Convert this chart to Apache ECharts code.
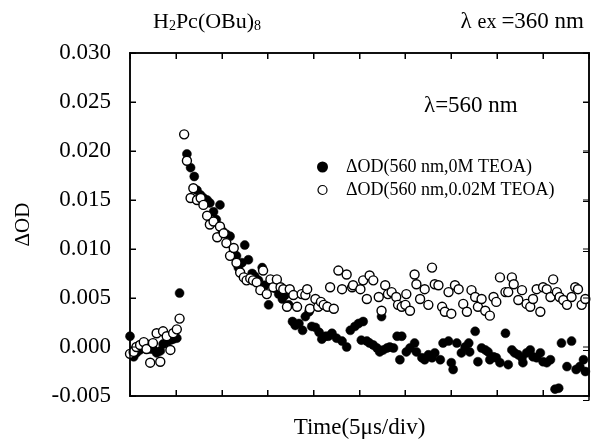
<!DOCTYPE html>
<html>
<head>
<meta charset="utf-8">
<script src="https://cdn.jsdelivr.net/npm/echarts@6/dist/echarts.min.js"></script>
<style>
html,body{margin:0;padding:0;background:#fff;}
#chart{width:592px;height:444px;background:#fff;}
</style>
</head>
<body>
<div id="chart"></div>
<script>
// Time in microseconds (5 µs per division), ΔOD values
const seriesNames = ['ΔOD(560 nm,0M TEOA)', 'ΔOD(560 nm,0.02M TEOA)'];
const xTicks = [0, 5, 10, 15, 20, 25, 30, 35, 40, 45, 50];
const yTicks = [-0.005, 0.000, 0.005, 0.010, 0.015, 0.020, 0.025, 0.030];

const timeA = [0.0,0.4,0.7,1.1,1.5,1.8,2.2,2.5,2.9,3.3,3.6,4.0,4.4,4.7,5.1,5.4,
  6.2,6.6,7.0,7.3,7.7,8.0,8.4,8.7,9.1,9.4,9.8,10.1,10.5,10.9,11.2,11.6,11.8,12.2,12.5,12.9,
  13.3,13.6,14.0,14.4,14.7,15.1,15.5,15.8,16.2,16.6,16.9,17.3,17.7,18.0,18.4,18.8,19.1,19.5,
  19.8,20.2,20.6,20.9,21.3,21.6,22.0,22.5,23.1,23.6,24.0,24.5,24.9,25.2,25.4,25.8,26.1,26.5,
  26.9,27.2,27.4,27.6,28.0,28.3,28.7,29.1,29.4,29.6,30.1,30.5,31.0,31.2,31.8,32.1,32.5,32.9,
  33.2,33.8,34.1,34.7,35.0,35.2,35.6,36.1,36.5,36.9,37.0,37.6,37.9,38.3,38.7,39.0,39.2,39.6,
  39.9,40.3,40.9,41.2,41.6,41.9,42.3,42.7,42.8,43.2,43.6,43.9,44.3,44.7,45.0,45.4,45.8,46.3,
  46.7,47.0,47.6,48.1,48.6,49.0,49.4,49.6];
const odA = [0.0011,-0.0010,-0.0006,-0.0003,0.0000,0.0003,-0.0002,-0.0002,-0.0006,-0.0004,0.0003,0.0005,0.0007,0.0008,0.0009,0.0055,
  0.0197,0.0183,0.0174,0.0160,0.0155,0.0152,0.0150,0.0147,0.0138,0.0130,0.0145,0.0118,0.0115,0.0113,0.0096,0.0093,0.0081,0.0086,0.0104,0.0089,
  0.0075,0.0072,0.0068,0.0081,0.0063,0.0043,0.0066,0.0060,0.0054,0.0049,0.0053,0.0043,0.0026,0.0022,0.0024,0.0017,0.0031,0.0036,
  0.0021,0.0020,0.0015,0.0008,0.0011,0.0011,0.0014,0.0009,0.0006,0.0000,0.0017,0.0021,0.0024,0.0007,0.0026,0.0006,0.0004,0.0002,
  -0.0001,-0.0005,0.0031,-0.0003,-0.0001,0.0000,-0.0001,0.0011,-0.0013,0.0011,-0.0005,-0.0001,0.0004,-0.0005,-0.0011,-0.0013,-0.0008,-0.0011,
  -0.0006,-0.0013,0.0004,0.0006,-0.0016,-0.0023,0.0004,-0.0006,0.0000,0.0004,-0.0005,0.0016,-0.0015,-0.0001,-0.0003,-0.0005,-0.0013,-0.0010,
  -0.0011,-0.0016,0.0014,-0.0018,-0.0003,-0.0006,-0.0008,-0.0011,-0.0016,-0.0006,-0.0003,-0.0010,-0.0011,-0.0006,-0.0015,-0.0016,-0.0013,-0.0043,
  -0.0042,0.0004,-0.0020,0.0006,-0.0023,-0.0020,-0.0013,-0.0025];

const timeB = [0.0,0.4,0.7,1.1,1.5,1.8,2.2,2.5,2.9,3.3,3.6,4.0,4.4,4.7,5.1,5.4,
  5.9,6.2,6.6,6.9,7.3,7.7,8.0,8.4,8.7,9.1,9.5,9.8,10.2,10.5,10.9,11.3,11.6,12.0,12.4,12.7,
  13.1,13.4,13.8,14.2,14.5,14.9,15.3,15.6,16.0,16.4,16.7,17.1,17.4,17.8,18.2,18.7,19.1,19.3,
  19.6,20.2,20.5,20.8,21.1,21.5,21.8,22.2,22.7,23.1,23.6,24.2,24.3,25.1,25.4,25.8,26.1,26.5,
  27.1,27.4,27.8,28.1,28.5,29.0,29.2,29.6,30.0,30.1,30.5,31.0,31.2,31.6,32.1,32.5,32.9,33.2,
  33.6,34.0,34.3,34.7,35.0,35.4,35.8,36.3,36.7,37.2,37.6,37.9,38.3,38.7,39.2,39.6,39.9,40.3,
  40.9,41.2,41.6,41.8,42.3,42.7,43.2,43.6,43.9,44.3,44.7,45.0,45.4,45.8,46.1,46.5,46.8,47.2,
  47.6,48.1,48.5,48.8,49.2,49.6];
const odB = [-0.0007,-0.0005,0.0000,0.0002,0.0005,-0.0002,-0.0016,0.0004,0.0014,-0.0015,0.0016,0.0011,-0.0003,0.0014,0.0018,0.0029,
  0.0217,0.0190,0.0152,0.0162,0.0150,0.0152,0.0145,0.0134,0.0125,0.0128,0.0112,0.0123,0.0116,0.0106,0.0093,0.0101,0.0086,0.0076,0.0071,0.0068,
  0.0070,0.0068,0.0066,0.0058,0.0078,0.0054,0.0069,0.0061,0.0069,0.0061,0.0059,0.0041,0.0059,0.0053,0.0041,0.0054,0.0053,0.0059,
  0.0039,0.0049,0.0041,0.0046,0.0043,0.0041,0.0061,0.0039,0.0078,0.0059,0.0074,0.0061,0.0063,0.0059,0.0068,0.0049,0.0073,0.0068,
  0.0051,0.0037,0.0063,0.0054,0.0056,0.0051,0.0043,0.0041,0.0043,0.0054,0.0037,0.0074,0.0064,0.0049,0.0059,0.0043,0.0081,0.0064,
  0.0063,0.0041,0.0036,0.0056,0.0034,0.0063,0.0059,0.0044,0.0036,0.0058,0.0051,0.0041,0.0049,0.0037,0.0032,0.0051,0.0046,0.0071,
  0.0056,0.0056,0.0071,0.0064,0.0048,0.0058,0.0044,0.0041,0.0049,0.0059,0.0036,0.0061,0.0059,0.0051,0.0069,0.0056,0.0051,0.0048,
  0.0043,0.0051,0.0061,0.0059,0.0043,0.0049];

const dataA = timeA.map((t, i) => [t, odA[i]]);
const dataB = timeB.map((t, i) => [t, odB[i]]);

const FONT = '"Liberation Serif", "Times New Roman", serif';
const chart = echarts.init(document.getElementById('chart'), null, {renderer: 'canvas'});

const X_MIN = xTicks[0], X_MAX = xTicks[xTicks.length - 1];
const Y_MIN = yTicks[0], Y_MAX = yTicks[yTicks.length - 1];

function axisLine() { return {show: true, onZero: false, lineStyle: {color: '#000', width: 1.5}}; }
function tickIn() { return {show: true, inside: true, length: 6, lineStyle: {color: '#000', width: 1}}; }
const gridBox = {left: 130, right: 3, top: 53, bottom: 44, containLabel: false};

chart.setOption({
  animation: false,
  grid: [Object.assign({}, gridBox), Object.assign({}, gridBox)],
  title: [
    {
      left: 148, top: 0,
      text: '{a|H}{s|2}{a|Pc(OBu)}{s|8}',
      textStyle: {fontWeight: 'normal', rich: {
        a: {fontFamily: FONT, fontSize: 22, fontWeight: 'normal', color: '#000', lineHeight: 28, verticalAlign: 'bottom'},
        s: {fontFamily: FONT, fontSize: 14, fontWeight: 'normal', color: '#000', lineHeight: 8, verticalAlign: 'bottom'}
      }}
    },
    {
      right: 3, top: 0,
      text: '{a|λ }{s|ex }{a|=360 nm}',
      textStyle: {fontWeight: 'normal', rich: {
        a: {fontFamily: FONT, fontSize: 23, fontWeight: 'normal', color: '#000', lineHeight: 28, verticalAlign: 'bottom'},
        s: {fontFamily: FONT, fontSize: 20, fontWeight: 'normal', color: '#000', lineHeight: 14, verticalAlign: 'bottom'}
      }}
    },
    {
      left: 419, top: 89,
      text: 'λ=560 nm',
      textStyle: {fontFamily: FONT, fontSize: 23, fontWeight: 'normal', color: '#000'}
    }
  ],
  legend: {
    left: 312, top: 153,
    orient: 'vertical',
    itemGap: 5,
    itemWidth: 9, itemHeight: 9,
    textStyle: {fontFamily: FONT, fontSize: 18, color: '#000', padding: [0, 0, 0, 14]},
    data: [
      {name: seriesNames[0], icon: 'circle'},
      {name: seriesNames[1], icon: 'circle', itemStyle: {color: '#fff', borderColor: '#000', borderWidth: 1.2}}
    ]
  },
  xAxis: [
    {
      gridIndex: 0, type: 'value', min: X_MIN, max: X_MAX, interval: 5, position: 'bottom',
      name: 'Time(5μs/div)', nameLocation: 'middle', nameGap: 20,
      nameTextStyle: {fontFamily: FONT, fontSize: 23, color: '#000'},
      axisLine: axisLine(), axisTick: tickIn(), axisLabel: {show: false}, splitLine: {show: false}
    },
    {
      gridIndex: 1, type: 'value', min: X_MIN, max: X_MAX, interval: 5, position: 'top',
      axisLine: axisLine(), axisTick: tickIn(), axisLabel: {show: false}, splitLine: {show: false}
    }
  ],
  yAxis: [
    {
      gridIndex: 0, type: 'value', min: Y_MIN, max: Y_MAX, interval: 0.005, position: 'left',
      name: 'ΔOD', nameLocation: 'middle', nameGap: 96, nameRotate: 90,
      nameTextStyle: {fontFamily: FONT, fontSize: 21, color: '#000'},
      axisLine: axisLine(), axisTick: tickIn(),
      axisLabel: {show: true, margin: 19, fontFamily: FONT, fontSize: 23, color: '#000',
        formatter: v => yTicks.reduce((b, t) => Math.abs(t - v) < Math.abs(b - v) ? t : b).toFixed(3)},
      splitLine: {show: false}
    },
    {
      gridIndex: 1, type: 'value', min: Y_MIN, max: Y_MAX, interval: 0.005, position: 'right',
      axisLine: axisLine(), axisTick: tickIn(), axisLabel: {show: false}, splitLine: {show: false}
    }
  ],
  series: [
    {
      name: seriesNames[0], type: 'scatter', xAxisIndex: 0, yAxisIndex: 0, data: dataA,
      symbol: 'circle', symbolSize: 9,
      itemStyle: {color: '#000', borderColor: '#000', borderWidth: 0.5, opacity: 1}
    },
    {
      name: seriesNames[1], type: 'scatter', xAxisIndex: 0, yAxisIndex: 0, data: dataB,
      symbol: 'circle', symbolSize: 9,
      itemStyle: {color: '#fff', borderColor: '#000', borderWidth: 1.4, opacity: 1}
    }
  ]
});

// Redundant frame and inward ticks as thin filled bars, positioned through the chart's own scales
const p0 = chart.convertToPixel({gridIndex: 0}, [X_MIN, Y_MIN]);
const p1 = chart.convertToPixel({gridIndex: 0}, [X_MAX, Y_MAX]);
const L = Math.round(p0[0]), B = Math.round(p0[1]);
const R = Math.round(p1[0]), T = Math.round(p1[1]);
const LW = 1.5, TL = 6;
function bar(x, y, w, h) {
  return {type: 'rect', z: 100, silent: true, shape: {x: x, y: y, width: w, height: h},
          style: {fill: '#000', stroke: null, lineWidth: 0}};
}
const frameEls = [
  bar(L - 0.75, T - 0.75, R - L + 1.5, LW),
  bar(L - 0.75, B - 0.75, R - L + 1.5, LW),
  bar(L - 0.75, T - 0.75, LW, B - T + 1.5),
  bar(R - 0.75, T - 0.75, LW, B - T + 1.5)
];
xTicks.forEach(t => {
  const x = Math.round(chart.convertToPixel({xAxisIndex: 0}, t));
  frameEls.push(bar(x - 0.5, B - TL, 1, TL));
  frameEls.push(bar(x - 0.5, T, 1, TL));
});
yTicks.forEach(v => {
  const y = Math.round(chart.convertToPixel({yAxisIndex: 0}, v));
  frameEls.push(bar(L, y - 0.5, TL, 1));
  frameEls.push(bar(R - TL, y - 0.5, TL, 1));
});
chart.setOption({graphic: {elements: frameEls}});
</script>
</body>
</html>
